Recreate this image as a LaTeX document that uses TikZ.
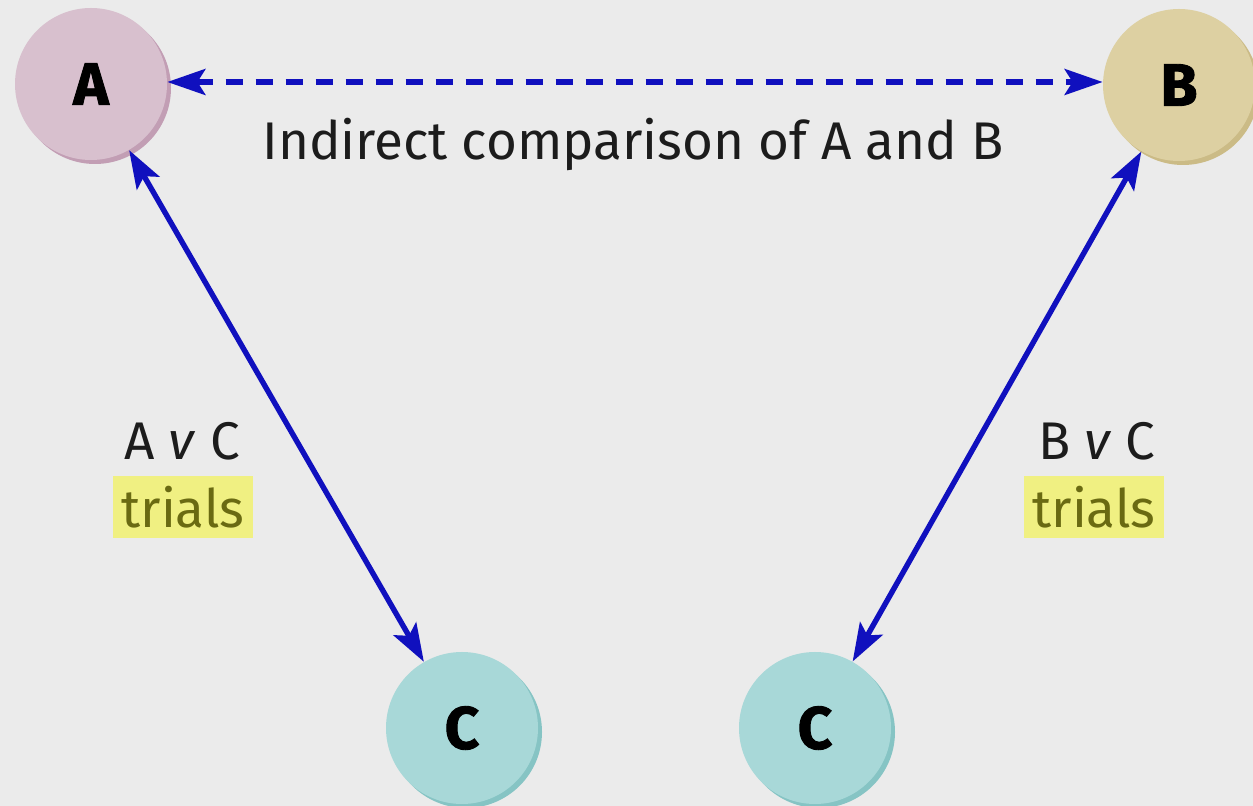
\documentclass[tikz,border=0pt]{standalone}
\usepackage{fontspec}
\setmainfont{Fira Sans}
\newfontfamily\heavy{Fira Sans}[BoldFeatures={FakeBold=1.5}]
\usetikzlibrary{arrows.meta,shadows}
\definecolor{bg}{HTML}{EBEBEB}
\definecolor{link}{RGB}{16,16,190}
\definecolor{Afill}{HTML}{D8C0CE}
\definecolor{Ashade}{HTML}{C29EB4}
\definecolor{Bfill}{HTML}{DDD0A2}
\definecolor{Bshade}{HTML}{CBBB86}
\definecolor{Cfill}{HTML}{A8D8D8}
\definecolor{Cshade}{HTML}{86C4C4}
\definecolor{hilite}{RGB}{240,240,130}
\definecolor{olive}{HTML}{6A6A12}
\definecolor{ink}{HTML}{1C1C1C}
\tikzset{
  drug/.style={circle, inner sep=0pt, minimum size=76pt, font=\heavy\bfseries\fontsize{30}{30}\selectfont, text=black,
    general shadow={fill=#1, shadow xshift=2pt, shadow yshift=-2pt}},
  tip/.tip={Stealth[length=19pt,width=13pt,inset=4pt]},
  conn/.style={draw=link, line width=2.7pt, tip-tip},
  lbl/.style={font=\fontsize{26.5}{26.5}\selectfont, text=ink, inner sep=0pt, anchor=base},
  trialbox/.style={fill=hilite, text=olive, font=\fontsize{26.5}{26.5}\selectfont, minimum width=70pt, minimum height=31pt, inner sep=0pt}
}
\begin{document}
\begin{tikzpicture}[x=0.5pt,y=-0.5pt]
  \fill[bg] (0,0) rectangle (1253,806);
  \useasboundingbox (0,0) rectangle (1253,806);

  % treatments
  \node[drug=Ashade, fill=Afill] (A) at (91,84) {A};
  \node[drug=Bshade, fill=Bfill] (B) at (1179,85) {B};
  \node[drug=Cshade, fill=Cfill] (C1) at (462,728) {C};
  \node[drug=Cshade, fill=Cfill] (C2) at (815,728) {C};

  % comparisons
  \draw[conn, dash pattern=on 8.5pt off 6.5pt] (A.east |- 0,82) -- (B.west |- 0,82);
  \draw[conn] (A) -- (C1);
  \draw[conn] (B) -- (C2);

  % labels
  \node[lbl] (ind) at (633,160) {Indirect comparison of A and B};
  \node[lbl] (avc) at (182,460) {A \textit{v} C};
  \node[trialbox] (avct) at (183,507) {trials};
  \node[lbl] (bvc) at (1097,460) {B \textit{v} C};
  \node[trialbox] (bvct) at (1094,507) {trials};
\end{tikzpicture}
\end{document}
